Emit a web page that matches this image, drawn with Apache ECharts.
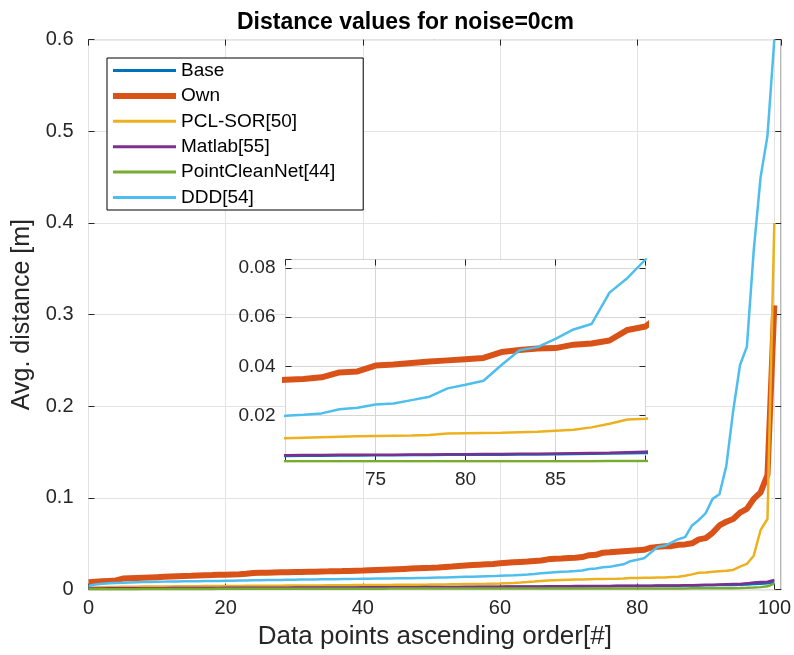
<!DOCTYPE html>
<html>
<head>
<meta charset="utf-8">
<script src="https://cdn.jsdelivr.net/npm/echarts@6/dist/echarts.min.js"></script>
<style>
  html, body { margin: 0; padding: 0; background: #fff; }
  #wrap { position: relative; width: 794px; height: 655px; }
  #chart, #inset { position: absolute; left: 0; top: 0; width: 794px; height: 655px; }
  #inset { pointer-events: none; }
</style>
</head>
<body>
<div id="wrap">
  <div id="chart"></div>
  <div id="inset"></div>
</div>
<script>
// point index along x (ascending order)
var pointIdx = [];
for (var i = 0; i <= 100; i++) pointIdx.push(i);

var seriesNames = ["Base", "Own", "PCL-SOR[50]", "Matlab[55]", "PointCleanNet[44]", "DDD[54]"];
var seriesColors = ["#0072BD", "#D95319", "#EDB120", "#7E2F8E", "#77AC30", "#4DBEEE"];

var baseVals = [
  0.0010,0.0010,0.0011,0.0011,0.0011,0.0012,0.0012,0.0012,0.0013,0.0013,
  0.0013,0.0014,0.0014,0.0014,0.0014,0.0015,0.0015,0.0015,0.0015,0.0016,
  0.0016,0.0016,0.0016,0.0017,0.0017,0.0017,0.0017,0.0018,0.0018,0.0018,
  0.0019,0.0019,0.0019,0.0019,0.0020,0.0020,0.0020,0.0021,0.0021,0.0021,
  0.0022,0.0022,0.0022,0.0023,0.0023,0.0023,0.0024,0.0024,0.0024,0.0025,
  0.0025,0.0025,0.0026,0.0026,0.0026,0.0027,0.0027,0.0028,0.0028,0.0029,
  0.0029,0.0030,0.0030,0.0031,0.0031,0.0032,0.0032,0.0033,0.0033,0.0034,
  0.0034,0.0035,0.0035,0.0036,0.0036,0.0037,0.0037,0.0038,0.0038,0.0039,
  0.0039,0.0040,0.0040,0.0041,0.0041,0.0042,0.0043,0.0044,0.0045,0.0046,
  0.0047,0.0048,0.0049,0.0050,0.0051,0.0052,0.0055,0.0060,0.0064,0.0068,
  0.0080
];
var ownVals = [
  0.0080,0.0085,0.0090,0.0095,0.0100,0.0120,0.0124,0.0127,0.0130,0.0133,
  0.0136,0.0139,0.0142,0.0145,0.0148,0.0150,0.0153,0.0156,0.0158,0.0161,
  0.0163,0.0166,0.0168,0.0172,0.0180,0.0183,0.0185,0.0187,0.0189,0.0190,
  0.0192,0.0193,0.0195,0.0196,0.0198,0.0199,0.0201,0.0202,0.0204,0.0206,
  0.0208,0.0211,0.0214,0.0217,0.0220,0.0223,0.0226,0.0229,0.0232,0.0235,
  0.0238,0.0242,0.0247,0.0252,0.0258,0.0263,0.0268,0.0272,0.0276,0.0280,
  0.0288,0.0294,0.0298,0.0302,0.0306,0.0312,0.0318,0.0330,0.0336,0.0340,
  0.0345,0.0348,0.0355,0.0375,0.0379,0.0403,0.0407,0.0413,0.0419,0.0424,
  0.0429,0.0434,0.0458,0.0466,0.0472,0.0474,0.0488,0.0493,0.0505,0.0548,
  0.0562,0.0620,0.0700,0.0740,0.0770,0.0840,0.0880,0.0990,0.1060,0.1250,
  0.3100
];
var pclVals = [
  0.0020,0.0024,0.0026,0.0028,0.0029,0.0030,0.0031,0.0032,0.0033,0.0033,
  0.0034,0.0035,0.0035,0.0036,0.0036,0.0037,0.0037,0.0038,0.0038,0.0039,
  0.0039,0.0040,0.0040,0.0041,0.0041,0.0042,0.0042,0.0043,0.0043,0.0044,
  0.0044,0.0045,0.0045,0.0046,0.0046,0.0047,0.0047,0.0048,0.0048,0.0049,
  0.0049,0.0050,0.0050,0.0051,0.0051,0.0052,0.0052,0.0053,0.0053,0.0054,
  0.0055,0.0056,0.0057,0.0058,0.0059,0.0060,0.0061,0.0062,0.0063,0.0065,
  0.0067,0.0070,0.0073,0.0077,0.0082,0.0088,0.0095,0.0100,0.0103,0.0105,
  0.0107,0.0109,0.0111,0.0113,0.0115,0.0116,0.0117,0.0118,0.0120,0.0126,
  0.0127,0.0128,0.0129,0.0131,0.0133,0.0137,0.0141,0.0151,0.0166,0.0183,
  0.0186,0.0195,0.0200,0.0205,0.0215,0.0250,0.0280,0.0370,0.0650,0.0770,
  0.4000
];
var matlabVals = [
  0.0012,0.0013,0.0013,0.0014,0.0014,0.0014,0.0015,0.0015,0.0015,0.0016,
  0.0016,0.0016,0.0017,0.0017,0.0017,0.0017,0.0018,0.0018,0.0018,0.0018,
  0.0019,0.0019,0.0019,0.0020,0.0020,0.0020,0.0020,0.0021,0.0021,0.0021,
  0.0022,0.0022,0.0022,0.0022,0.0023,0.0023,0.0023,0.0024,0.0024,0.0024,
  0.0025,0.0025,0.0025,0.0026,0.0026,0.0026,0.0027,0.0027,0.0027,0.0028,
  0.0028,0.0028,0.0029,0.0029,0.0029,0.0030,0.0030,0.0031,0.0031,0.0032,
  0.0032,0.0033,0.0033,0.0034,0.0034,0.0035,0.0035,0.0036,0.0036,0.0037,
  0.0037,0.0038,0.0038,0.0039,0.0039,0.0040,0.0040,0.0041,0.0041,0.0042,
  0.0042,0.0043,0.0043,0.0044,0.0044,0.0045,0.0046,0.0047,0.0048,0.0050,
  0.0052,0.0054,0.0056,0.0058,0.0060,0.0062,0.0068,0.0078,0.0082,0.0086,
  0.0105
];
var pcnVals = [
  0.0003,0.0004,0.0004,0.0004,0.0005,0.0005,0.0005,0.0005,0.0006,0.0006,
  0.0006,0.0006,0.0006,0.0007,0.0007,0.0007,0.0007,0.0007,0.0007,0.0008,
  0.0008,0.0008,0.0008,0.0008,0.0008,0.0008,0.0009,0.0009,0.0009,0.0009,
  0.0009,0.0009,0.0009,0.0009,0.0010,0.0010,0.0010,0.0010,0.0010,0.0010,
  0.0010,0.0010,0.0010,0.0010,0.0011,0.0011,0.0011,0.0011,0.0011,0.0011,
  0.0011,0.0011,0.0011,0.0011,0.0011,0.0011,0.0012,0.0012,0.0012,0.0012,
  0.0012,0.0012,0.0012,0.0012,0.0012,0.0012,0.0012,0.0012,0.0012,0.0012,
  0.0013,0.0013,0.0013,0.0013,0.0013,0.0013,0.0013,0.0013,0.0013,0.0013,
  0.0013,0.0013,0.0013,0.0013,0.0013,0.0013,0.0013,0.0013,0.0014,0.0014,
  0.0014,0.0014,0.0015,0.0015,0.0016,0.0017,0.0019,0.0022,0.0027,0.0036,
  0.0065
];
var dddVals = [
  0.0040,0.0055,0.0063,0.0068,0.0072,0.0075,0.0078,0.0080,0.0082,0.0084,
  0.0086,0.0087,0.0088,0.0089,0.0090,0.0091,0.0092,0.0093,0.0094,0.0095,
  0.0096,0.0097,0.0098,0.0099,0.0101,0.0103,0.0104,0.0105,0.0106,0.0107,
  0.0108,0.0109,0.0110,0.0111,0.0112,0.0113,0.0114,0.0115,0.0116,0.0117,
  0.0118,0.0119,0.0120,0.0121,0.0122,0.0123,0.0124,0.0125,0.0126,0.0127,
  0.0129,0.0131,0.0133,0.0135,0.0137,0.0139,0.0141,0.0143,0.0145,0.0147,
  0.0150,0.0153,0.0156,0.0160,0.0164,0.0170,0.0178,0.0185,0.0190,0.0195,
  0.0198,0.0202,0.0208,0.0225,0.0231,0.0244,0.0248,0.0262,0.0276,0.0310,
  0.0325,0.0341,0.0405,0.0465,0.0478,0.0512,0.0550,0.0572,0.0700,0.0760,
  0.0835,0.0990,0.1040,0.1350,0.1950,0.2450,0.2650,0.3700,0.4500,0.4950,
  0.6000
];
var allVals = [baseVals, ownVals, pclVals, matlabVals, pcnVals, dddVals];
var lineWidths = [2.5, 6, 2.5, 2.5, 2.5, 2.5];

// main axes ticks
var mainXTicks = [0, 20, 40, 60, 80, 100];
var mainYTicks = [0, 0.1, 0.2, 0.3, 0.4, 0.5, 0.6];
// inset (zoom) ticks
var insetXTicks = [75, 80, 85];
var insetYTicks = [0.02, 0.04, 0.06, 0.08];

var FONT = "Liberation Sans";
var AX = "#262626";
var GRIDC = "#e3e3e3";
var INSET_GRIDC = "#d6d6d6"; // a bit darker: these lines fall on whole pixels and get smeared

function pairs(vals) {
  return pointIdx.map(function(x, k) { return [x, vals[k]]; });
}

function axisBase(extra) {
  var o = {
    type: "value",
    axisLine: { show: false, onZero: false },
    axisTick: { show: true, inside: true, length: 6, lineStyle: { color: AX, width: 1 } },
    axisLabel: { color: AX, fontFamily: FONT, fontSize: 19 },
    splitLine: { show: true, lineStyle: { color: GRIDC, width: 1 } }
  };
  for (var k in extra) o[k] = extra[k];
  return o;
}

function makeSeries(clip) {
  return seriesNames.map(function(name, k) {
    return {
      name: name, type: "line",
      data: pairs(allVals[k]), showSymbol: false, symbol: "none",
      lineStyle: { color: seriesColors[k], width: lineWidths[k] },
      itemStyle: { color: seriesColors[k] },
      clip: clip, animation: false
    };
  });
}

// ---- main chart
var option = {
  animation: false,
  backgroundColor: "#fff",
  title: {
    text: "Distance values for noise=0cm",
    left: 232, top: 6,
    textStyle: { fontFamily: FONT, fontSize: 23, fontWeight: "bold", color: "#000" }
  },
  legend: {
    left: 107, top: 58,
    orient: "vertical",
    padding: [3, 28, 3, 6],
    itemWidth: 63, itemHeight: 14, itemGap: 6.4,
    itemTextGap: 5,
    symbolKeepAspect: true,
    backgroundColor: "#fff",
    borderColor: "#000", borderWidth: 1,
    textStyle: { fontFamily: FONT, fontSize: 19, color: "#000" },
    data: seriesNames.map(function(n, k) {
      var h = lineWidths[k] === 6 ? 6 : 3;
      return { name: n, icon: "path://M0 0H63V" + h + "H0Z" };
    })
  },
  grid: { left: 88.5, right: 10.5, top: 39.6, bottom: 65.4, show: true,
    backgroundColor: "#fff", borderColor: AX, borderWidth: 1 },
  xAxis: [
    axisBase({ position: "bottom", min: 0, max: 101, interval: 20,
      name: "Data points ascending order[#]", nameLocation: "middle", nameGap: 33,
      nameTextStyle: { fontFamily: FONT, fontSize: 26, color: AX },
      axisLabel: { color: AX, fontFamily: FONT, fontSize: 20, margin: 9, showMaxLabel: false,
        formatter: function(v) { return mainXTicks.indexOf(v) >= 0 ? String(v) : ""; } } }),
    axisBase({ min: 0, max: 101, interval: 20, position: "top",
      axisLabel: { show: false }, splitLine: { show: false } })
  ],
  yAxis: [
    axisBase({ position: "left", min: 0, max: 0.6, interval: 0.1,
      name: "Avg. distance [m]", nameLocation: "middle", nameGap: 50,
      nameTextStyle: { fontFamily: FONT, fontSize: 25, color: AX },
      axisLabel: { color: AX, fontFamily: FONT, fontSize: 20, margin: 15,
        formatter: function(v) { return mainYTicks.indexOf(v) >= 0 ? String(v) : ""; } } }),
    axisBase({ min: 0, max: 0.6, interval: 0.1, position: "right",
      axisLabel: { show: false }, splitLine: { show: false } })
  ],
  series: makeSeries(true)
};

// ---- zoomed inset, drawn on a transparent overlay chart
var insetOption = {
  animation: false,
  grid: { left: 285.5, top: 259.5, width: 360, height: 202, show: true,
    backgroundColor: "#fff", borderColor: AX, borderWidth: 1 },
  xAxis: [
    axisBase({ position: "bottom", min: 70, max: 90, interval: 5,
      splitLine: { show: true, lineStyle: { color: INSET_GRIDC, width: 1 } },
      axisLabel: { color: AX, fontFamily: FONT, fontSize: 19, margin: 9,
        formatter: function(v) { return insetXTicks.indexOf(v) >= 0 ? String(v) : ""; } } }),
    axisBase({ min: 70, max: 90, interval: 5, position: "top",
      axisLabel: { show: false }, splitLine: { show: false } })
  ],
  yAxis: [
    axisBase({ position: "left", min: 0.0012, max: 0.0835, splitNumber: 4,
      splitLine: { show: true, lineStyle: { color: INSET_GRIDC, width: 1 } },
      axisLabel: { color: AX, fontFamily: FONT, fontSize: 19, margin: 10,
        formatter: function(v) {
          var r = Math.round(v * 100) / 100;
          return (Math.abs(v - r) < 1e-6 && insetYTicks.indexOf(r) >= 0) ? r.toFixed(2) : "";
        } } }),
    axisBase({ min: 0.0012, max: 0.0835, splitNumber: 4, position: "right",
      axisLabel: { show: false }, splitLine: { show: false } })
  ],
  series: makeSeries(true)
};

var chart = echarts.init(document.getElementById("chart"), null, { renderer: "canvas" });
chart.setOption(option);
var inset = echarts.init(document.getElementById("inset"), null, { renderer: "canvas" });
inset.setOption(insetOption);
</script>
</body>
</html>
